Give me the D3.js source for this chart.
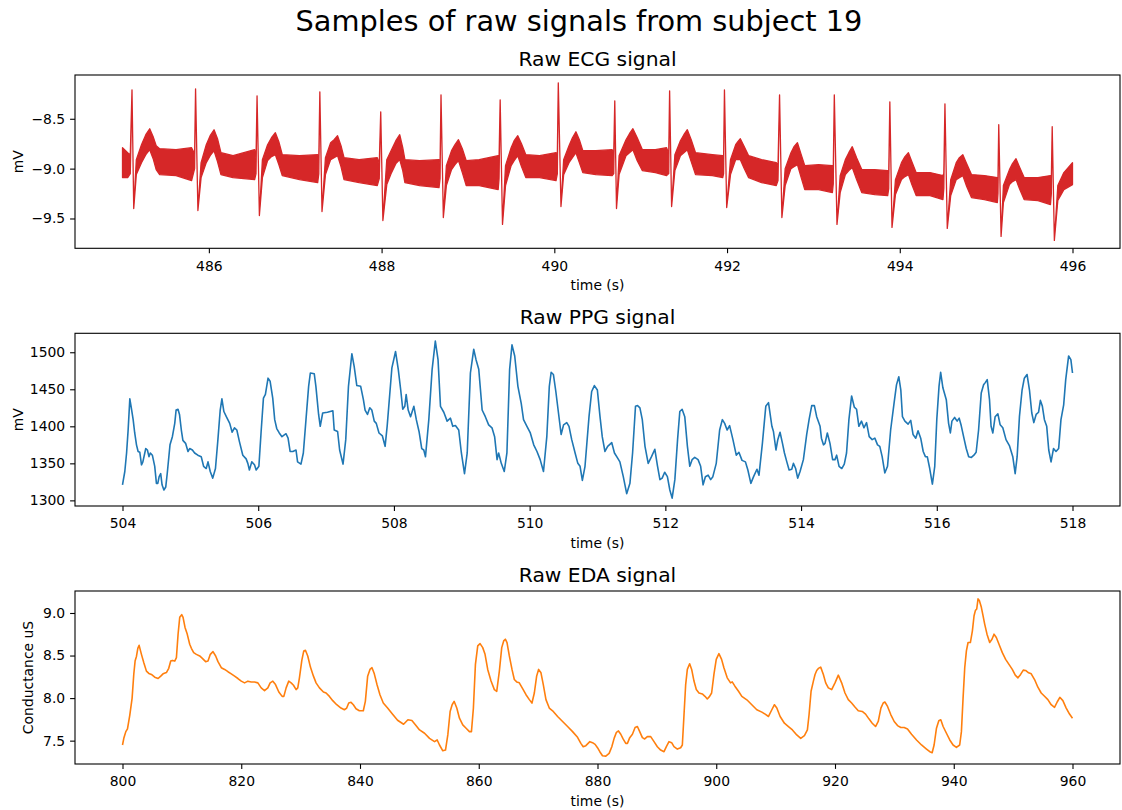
<!DOCTYPE html>
<html>
<head>
<meta charset="utf-8">
<script src="https://cdn.jsdelivr.net/npm/d3@7"></script>
<style>
  body { margin: 0; background: #fff; }
  svg { font-family: "DejaVu Sans", sans-serif; }
</style>
</head>
<body>
<script>
const width = 1122;
const height = 810;
const marginLeft = 75;
const marginRight = 2;

// ECG: the dense noisy trace read as a band (low / high edge), R and S spikes as single values.
// one line per heart beat
const ecgTime = [
  485.00, 485.06, 485.09, 485.11, 485.13, 485.16, 485.22, 485.27, 485.315, 485.355, 485.39, 485.43, 485.62, 485.80,
  485.835, 485.846, 485.873, 485.91, 485.97, 486.015, 486.06, 486.10, 486.14, 486.28, 486.53,
  486.546, 486.558, 486.585, 486.62, 486.68, 486.725, 486.77, 486.81, 486.85, 487.05, 487.26,
  487.273, 487.285, 487.31, 487.35, 487.41, 487.45, 487.49, 487.53, 487.565, 487.74, 487.95,
  487.973, 487.99, 488.015, 488.06, 488.115, 488.165, 488.21, 488.245, 488.27, 488.44, 488.665,
  488.677, 488.688, 488.715, 488.75, 488.81, 488.85, 488.89, 488.935, 488.98, 489.13, 489.35,
  489.36, 489.373, 489.40, 489.435, 489.50, 489.535, 489.577, 489.62, 489.67, 489.83, 490.02,
  490.035, 490.046, 490.077, 490.108, 490.17, 490.21, 490.25, 490.29, 490.33, 490.48, 490.67,
  490.688, 490.70, 490.72, 490.75, 490.83, 490.87, 490.91, 490.96, 491.02, 491.17, 491.30,
  491.325, 491.335, 491.358, 491.396, 491.46, 491.50, 491.54, 491.585, 491.635, 491.83, 491.95,
  491.96, 491.97, 491.996, 492.04, 492.10, 492.125, 492.154, 492.20, 492.25, 492.40, 492.57,
  492.59, 492.608, 492.635, 492.673, 492.74, 492.775, 492.815, 492.855, 492.90, 493.06, 493.22,
  493.23, 493.242, 493.273, 493.31, 493.37, 493.41, 493.45, 493.50, 493.56, 493.71, 493.86,
  493.872, 493.885, 493.91, 493.95, 494.02, 494.06, 494.10, 494.14, 494.19, 494.35, 494.50,
  494.51, 494.523, 494.55, 494.59, 494.654, 494.69, 494.73, 494.775, 494.83, 494.98, 495.13,
  495.137, 495.146, 495.173, 495.20, 495.27, 495.305, 495.346, 495.39, 495.44, 495.60, 495.745,
  495.755, 495.765, 495.79, 495.83, 495.90, 496.00];
const ecgLow = [
  -9.09, -9.09, -9.05, -8.21, -9.40, -9.06, -8.94, -8.86, -8.81, -8.90, -9.01, -9.06, -9.07, -9.12,
  -9.00, -8.20, -9.42, -9.09, -8.94, -8.87, -8.82, -8.93, -9.06, -9.09, -9.11,
  -9.05, -8.27, -9.47, -9.09, -8.92, -8.88, -8.86, -8.96, -9.07, -9.11, -9.14,
  -9.05, -8.23, -9.43, -9.06, -8.91, -8.89, -8.87, -8.98, -9.11, -9.14, -9.17,
  -9.10, -8.43, -9.52, -9.16, -9.04, -8.95, -8.91, -9.02, -9.14, -9.17, -9.19,
  -9.10, -8.26, -9.49, -9.17, -9.01, -8.96, -8.92, -9.04, -9.17, -9.17, -9.21,
  -9.10, -8.31, -9.56, -9.17, -8.97, -8.92, -8.87, -8.98, -9.09, -9.09, -9.12,
  -9.05, -8.14, -9.38, -9.06, -8.94, -8.89, -8.84, -8.94, -9.04, -9.06, -9.07,
  -9.05, -8.32, -9.40, -9.06, -8.87, -8.84, -8.81, -8.92, -9.02, -9.04, -9.07,
  -9.05, -8.22, -9.38, -9.02, -8.87, -8.84, -8.81, -8.93, -9.06, -9.07, -9.09,
  -9.05, -8.21, -9.39, -9.06, -8.91, -8.91, -8.91, -9.00, -9.09, -9.14, -9.17,
  -9.12, -8.26, -9.49, -9.17, -9.00, -8.98, -8.96, -9.08, -9.21, -9.21, -9.24,
  -9.15, -8.26, -9.56, -9.24, -9.06, -9.02, -8.99, -9.11, -9.24, -9.26, -9.27,
  -9.20, -8.33, -9.59, -9.26, -9.11, -9.08, -9.06, -9.16, -9.27, -9.27, -9.31,
  -9.20, -8.35, -9.60, -9.27, -9.11, -9.09, -9.07, -9.18, -9.29, -9.31, -9.34,
  -9.25, -8.56, -9.68, -9.34, -9.16, -9.13, -9.11, -9.21, -9.31, -9.32, -9.36,
  -9.25, -8.58, -9.72, -9.32, -9.21, -9.16];
const ecgHigh = [
  -8.79, -8.84, -8.86, -8.21, -9.40, -8.91, -8.76, -8.66, -8.60, -8.68, -8.77, -8.80, -8.81, -8.79,
  -8.85, -8.20, -9.42, -8.94, -8.76, -8.67, -8.61, -8.70, -8.84, -8.87, -8.81,
  -8.90, -8.27, -9.47, -8.91, -8.76, -8.69, -8.64, -8.73, -8.86, -8.87, -8.86,
  -8.90, -8.23, -9.43, -8.89, -8.74, -8.71, -8.67, -8.77, -8.89, -8.91, -8.89,
  -8.95, -8.43, -9.52, -8.91, -8.81, -8.72, -8.66, -8.79, -8.91, -8.92, -8.91,
  -8.95, -8.26, -9.49, -8.97, -8.82, -8.76, -8.71, -8.80, -8.92, -8.91, -8.87,
  -8.90, -8.31, -9.56, -8.97, -8.79, -8.72, -8.67, -8.75, -8.86, -8.87, -8.84,
  -8.85, -8.14, -9.38, -8.91, -8.77, -8.69, -8.63, -8.71, -8.82, -8.82, -8.81,
  -8.85, -8.32, -9.40, -8.87, -8.71, -8.65, -8.60, -8.69, -8.81, -8.81, -8.79,
  -8.85, -8.22, -9.38, -8.86, -8.72, -8.66, -8.61, -8.71, -8.84, -8.86, -8.87,
  -8.90, -8.21, -9.39, -8.91, -8.76, -8.73, -8.70, -8.78, -8.87, -8.91, -8.94,
  -8.97, -8.26, -9.49, -9.00, -8.84, -8.78, -8.74, -8.85, -8.97, -8.96, -8.97,
  -9.00, -8.26, -9.56, -9.07, -8.91, -8.84, -8.78, -8.89, -9.01, -9.01, -9.02,
  -9.05, -8.33, -9.59, -9.11, -8.94, -8.88, -8.84, -8.93, -9.04, -9.04, -9.07,
  -9.05, -8.35, -9.60, -9.11, -8.94, -8.89, -8.86, -8.95, -9.06, -9.07, -9.09,
  -9.10, -8.56, -9.68, -9.17, -9.01, -8.95, -8.90, -8.99, -9.09, -9.09, -9.07,
  -9.10, -8.58, -9.72, -9.17, -9.04, -8.94];

const ppgTime = [504.0, 504.034, 504.06, 504.083, 504.108, 504.13, 504.157, 504.18, 504.206, 504.23, 504.255, 504.28,
  504.30, 504.343, 504.367, 504.39, 504.41, 504.44, 504.475, 504.50, 504.52, 504.54, 504.563, 504.583, 504.61,
  504.637, 504.66, 504.70, 504.735, 504.77, 504.79, 504.818, 504.84, 504.867, 504.89, 504.93, 504.965, 504.99,
  505.03, 505.063, 505.11, 505.16, 505.195, 505.234, 505.26, 505.293, 505.33, 505.37, 505.406, 505.44, 505.465,
  505.494, 505.53, 505.58, 505.616, 505.65, 505.685, 505.724, 505.773, 505.822, 505.847, 505.87, 505.905, 505.945,
  505.97, 506.01, 506.043, 506.077, 506.106, 506.145, 506.175, 506.214, 506.243, 506.273, 506.31, 506.35, 506.41,
  506.44, 506.47, 506.51, 506.557, 506.58, 506.63, 506.665, 506.704, 506.743, 506.768, 506.826, 506.85, 506.89,
  506.914, 506.95, 507.02, 507.10, 507.12, 507.17, 507.20, 507.25, 507.29, 507.33, 507.38, 507.414, 507.453,
  507.51, 507.55, 507.575, 507.61, 507.644, 507.674, 507.71, 507.74, 507.78, 507.83, 507.87, 507.90, 507.97,
  508.024, 508.064, 508.10, 508.13, 508.16, 508.18, 508.21, 508.245, 508.294, 508.33, 508.37, 508.41, 508.44,
  508.465, 508.514, 508.563, 508.61, 508.65, 508.686, 508.735, 508.784, 508.833, 508.867, 508.906, 508.955, 508.994,
  509.04, 509.08, 509.127, 509.176, 509.21, 509.25, 509.30, 509.347, 509.396, 509.445, 509.484, 509.52, 509.543,
  509.582, 509.626, 509.665, 509.705, 509.74, 509.78, 509.827, 509.876, 509.91, 509.96, 510.01, 510.06, 510.108,
  510.155, 510.204, 510.253, 510.29, 510.317, 510.35, 510.386, 510.425, 510.464, 510.50, 510.547, 510.58, 510.62,
  510.67, 510.71, 510.743, 510.777, 510.816, 510.875, 510.914, 510.954, 510.998, 511.037, 511.07, 511.11, 511.15,
  511.21, 511.25, 511.297, 511.33, 511.38, 511.43, 511.478, 511.517, 511.56, 511.59, 511.625, 511.66, 511.70,
  511.747, 511.796, 511.845, 511.885, 511.92, 511.953, 511.99, 512.03, 512.066, 512.10, 512.14, 512.18, 512.213,
  512.247, 512.286, 512.325, 512.36, 512.394, 512.433, 512.482, 512.52, 512.556, 512.59, 512.63, 512.668, 512.70,
  512.75, 512.80, 512.84, 512.874, 512.91, 512.947, 512.996, 513.045, 513.084, 513.13, 513.18, 513.216, 513.26,
  513.30, 513.35, 513.38, 513.43, 513.48, 513.52, 513.57, 513.593, 513.63, 513.657, 513.69, 513.726, 513.755,
  513.79, 513.824, 513.863, 513.887, 513.92, 513.95, 513.985, 514.034, 514.083, 514.118, 514.157, 514.196, 514.23,
  514.28, 514.30, 514.33, 514.353, 514.387, 514.426, 514.465, 514.50, 514.524, 514.56, 514.60, 514.637, 514.67,
  514.705, 514.745, 514.784, 514.818, 514.852, 514.89, 514.926, 514.965, 515.004, 515.048, 515.087, 515.127, 515.16,
  515.195, 515.234, 515.274, 515.32, 515.37, 515.406, 515.44, 515.47, 515.494, 515.53, 515.577, 515.616, 515.65,
  515.69, 515.724, 515.763, 515.80, 515.832, 515.86, 515.896, 515.935, 515.97, 516.00, 516.033, 516.057, 516.09,
  516.14, 516.174, 516.20, 516.223, 516.263, 516.30, 516.33, 516.36, 516.40, 516.434, 516.47, 516.51, 516.547,
  516.58, 516.616, 516.655, 516.69, 516.714, 516.743, 516.777, 516.80, 516.826, 516.86, 516.90, 516.934, 516.973,
  517.02, 517.07, 517.12, 517.155, 517.184, 517.218, 517.257, 517.29, 517.33, 517.366, 517.40, 517.43, 517.464,
  517.50, 517.527, 517.556, 517.586, 517.62, 517.65, 517.684, 517.72, 517.757, 517.796, 517.83, 517.87, 517.90,
  517.943, 517.976, 518.00];
const ppgValue = [1321, 1339, 1364, 1395, 1437, 1425, 1409, 1391, 1375, 1366, 1365, 1348,
  1352, 1370, 1368, 1359, 1364, 1361, 1346, 1323, 1323, 1332, 1336, 1321, 1314,
  1318, 1337, 1375, 1386, 1404, 1422, 1423, 1416, 1395, 1381, 1377, 1366, 1370,
  1368, 1364, 1361, 1359, 1346, 1343, 1352, 1339, 1330, 1343, 1382, 1422, 1437,
  1420, 1413, 1404, 1392, 1398, 1395, 1379, 1361, 1356, 1350, 1341, 1352, 1348,
  1341, 1346, 1393, 1438, 1443, 1465, 1461, 1438, 1409, 1397, 1391, 1386, 1390,
  1384, 1366, 1366, 1368, 1352, 1349, 1364, 1409, 1454, 1472, 1471, 1454, 1416,
  1400, 1418, 1419, 1421, 1395, 1393, 1368, 1349, 1382, 1454, 1498, 1481, 1455,
  1454, 1436, 1422, 1416, 1425, 1422, 1407, 1404, 1391, 1387, 1373, 1400, 1479,
  1501, 1477, 1449, 1423, 1427, 1443, 1422, 1413, 1427, 1409, 1393, 1370, 1368,
  1359, 1409, 1477, 1515, 1490, 1427, 1419, 1407, 1411, 1400, 1401, 1395, 1364,
  1336, 1364, 1472, 1504, 1490, 1477, 1422, 1413, 1402, 1398, 1386, 1355, 1364,
  1350, 1339, 1364, 1477, 1510, 1495, 1454, 1431, 1409, 1400, 1391, 1375, 1366,
  1355, 1339, 1386, 1454, 1473, 1470, 1447, 1418, 1389, 1402, 1405, 1400, 1382,
  1364, 1350, 1346, 1327, 1346, 1413, 1447, 1455, 1449, 1413, 1386, 1366, 1373,
  1378, 1364, 1357, 1352, 1332, 1309, 1323, 1364, 1427, 1428, 1425, 1409, 1373,
  1350, 1359, 1369, 1346, 1328, 1330, 1338, 1332, 1314, 1303, 1328, 1382, 1420,
  1423, 1413, 1373, 1346, 1355, 1358, 1355, 1346, 1321, 1332, 1334, 1328, 1332,
  1350, 1395, 1409, 1404, 1395, 1401, 1382, 1361, 1365, 1354, 1352, 1341, 1323,
  1332, 1342, 1334, 1377, 1427, 1432, 1400, 1393, 1368, 1382, 1392, 1377, 1364,
  1352, 1341, 1342, 1350, 1343, 1330, 1339, 1355, 1389, 1409, 1428, 1428, 1413,
  1400, 1384, 1375, 1377, 1391, 1377, 1355, 1355, 1361, 1346, 1343, 1349, 1364,
  1409, 1441, 1426, 1423, 1400, 1407, 1398, 1405, 1386, 1382, 1384, 1375, 1373,
  1359, 1337, 1346, 1395, 1431, 1456, 1467, 1449, 1413, 1407, 1403, 1408, 1389,
  1384, 1394, 1384, 1366, 1359, 1359, 1343, 1322, 1346, 1409, 1454, 1473, 1452,
  1436, 1404, 1391, 1407, 1412, 1407, 1411, 1401, 1384, 1370, 1359, 1358, 1361,
  1365, 1395, 1445, 1456, 1459, 1463, 1436, 1400, 1391, 1413, 1417, 1402, 1398,
  1382, 1374, 1359, 1336, 1359, 1413, 1449, 1465, 1470, 1449, 1418, 1405, 1416,
  1419, 1435, 1427, 1409, 1400, 1368, 1352, 1370, 1366, 1370, 1409, 1429, 1463,
  1495, 1490, 1472];

const edaTime = [800.0, 800.22, 800.56, 800.84, 801.23, 801.62, 801.9, 802.13, 802.35, 802.58, 802.8, 803.19,
  803.59, 804.03, 804.43, 804.87, 805.43, 806.0, 806.44, 806.83, 807.39, 807.79, 808.12, 808.4, 808.8, 809.08,
  809.36, 809.64, 809.97, 810.2, 810.53, 810.87, 811.32, 811.6, 811.99, 812.44, 813.0, 813.45, 814.0, 814.4,
  814.79, 815.24, 815.69, 816.08, 816.64, 817.2, 817.76, 818.32, 818.88, 819.44, 820.0, 820.56, 821.12, 821.68,
  822.24, 822.8, 823.36, 823.92, 824.48, 824.87, 825.32, 825.77, 826.33, 826.89, 827.17, 827.56, 828.0, 828.4,
  828.8, 829.24, 829.52, 829.8, 830.2, 830.53, 830.81, 831.2, 831.65, 832.16, 832.6, 833.17, 833.84, 834.29,
  834.85, 835.41, 836.08, 836.8, 837.37, 837.76, 838.1, 838.49, 838.88, 839.33, 839.89, 840.56, 840.9, 841.29,
  841.68, 842.02, 842.41, 842.86, 843.36, 843.92, 844.65, 845.49, 846.33, 847.34, 848.07, 848.74, 849.36, 850.03,
  850.87, 851.71, 852.55, 853.0, 853.39, 853.95, 854.4, 854.79, 855.18, 855.52, 855.85, 856.3, 856.75, 857.31,
  857.87, 858.43, 858.77, 859.1, 859.44, 859.83, 860.22, 860.67, 861.06, 861.51, 862.07, 862.63, 863.03, 863.47,
  863.87, 864.2, 864.48, 864.76, 865.15, 865.6, 865.99, 866.39, 866.83, 867.39, 867.96, 868.52, 868.96, 869.36,
  869.75, 870.08, 870.48, 870.87, 871.32, 871.88, 872.44, 873.28, 874.12, 874.96, 875.8, 876.64, 877.2, 877.59,
  878.04, 878.71, 879.16, 879.6, 880.0, 880.39, 880.84, 881.4, 881.96, 882.41, 882.8, 883.19, 883.53, 883.92,
  884.31, 884.76, 885.04, 885.43, 885.88, 886.33, 886.72, 887.11, 887.56, 887.95, 888.4, 888.96, 889.52, 890.08,
  890.64, 891.2, 891.6, 892.04, 892.49, 892.88, 893.45, 894.0, 894.29, 894.57, 894.85, 895.13, 895.52, 895.86,
  896.25, 896.64, 897.09, 897.65, 898.1, 898.49, 898.88, 899.22, 899.61, 900.0, 900.45, 900.9, 901.29, 901.85,
  902.41, 902.69, 903.14, 903.75, 904.31, 905.15, 905.99, 906.83, 907.68, 908.24, 908.8, 909.36, 909.8, 910.2,
  910.76, 911.48, 912.16, 912.83, 913.56, 914.23, 914.85, 915.35, 915.63, 915.97, 916.36, 916.64, 916.92, 917.2,
  917.59, 918.04, 918.43, 918.88, 919.44, 920.0, 920.56, 921.12, 921.68, 922.24, 922.8, 923.36, 923.92, 924.59,
  925.15, 925.71, 926.27, 926.83, 927.28, 927.73, 928.12, 928.4, 928.85, 929.41, 929.97, 930.53, 931.09, 931.65,
  932.21, 932.89, 933.73, 934.57, 935.41, 935.97, 936.36, 936.69, 937.09, 937.48, 937.82, 938.21, 938.77, 939.33,
  939.89, 940.45, 941.0, 941.29, 941.57, 941.85, 942.13, 942.41, 942.8, 943.14, 943.42, 943.64, 943.87, 944.09,
  944.31, 944.65, 944.93, 945.21, 945.6, 946.05, 946.44, 946.78, 947.17, 947.62, 948.18, 948.74, 949.3, 949.86,
  950.36, 950.81, 951.26, 951.71, 952.1, 952.61, 953.05, 953.61, 954.17, 954.73, 955.29, 955.85, 956.41, 956.97,
  957.42, 957.87, 958.38, 958.94, 959.5, 960.0];
const edaValue = [7.449, 7.527, 7.606, 7.638, 7.80, 8.00, 8.28, 8.44, 8.49, 8.585, 8.62, 8.514,
  8.416, 8.317, 8.29, 8.278, 8.246, 8.23, 8.258, 8.285, 8.30, 8.35, 8.435, 8.443, 8.435, 8.475,
  8.75, 8.949, 8.98, 8.949, 8.83, 8.76, 8.633, 8.585, 8.534, 8.514, 8.495, 8.467, 8.428, 8.435,
  8.514, 8.546, 8.495, 8.428, 8.357, 8.337, 8.31, 8.285, 8.258, 8.23, 8.199, 8.179, 8.199, 8.19,
  8.19, 8.179, 8.12, 8.088, 8.12, 8.179, 8.199, 8.159, 8.072, 8.02, 8.02, 8.12, 8.199, 8.179,
  8.151, 8.1, 8.12, 8.238, 8.443, 8.554, 8.562, 8.495, 8.364, 8.258, 8.179, 8.12, 8.072, 8.06,
  8.02, 7.97, 7.922, 7.883, 7.863, 7.883, 7.942, 7.95, 7.922, 7.875, 7.851, 7.851, 7.962, 8.258,
  8.337, 8.357, 8.285, 8.159, 8.04, 7.942, 7.883, 7.81, 7.74, 7.693, 7.745, 7.737, 7.685, 7.626,
  7.587, 7.527, 7.488, 7.508, 7.449, 7.381, 7.389, 7.567, 7.843, 7.922, 7.962, 7.883, 7.764, 7.685,
  7.646, 7.606, 7.606, 7.883, 8.396, 8.613, 8.64, 8.593, 8.514, 8.337, 8.2, 8.1, 8.08, 8.317,
  8.593, 8.672, 8.692, 8.653, 8.495, 8.337, 8.218, 8.19, 8.179, 8.112, 8.04, 7.982, 7.942, 8.06,
  8.258, 8.337, 8.297, 8.159, 7.982, 7.883, 7.851, 7.784, 7.725, 7.666, 7.606, 7.539, 7.468, 7.429,
  7.441, 7.488, 7.476, 7.456, 7.417, 7.37, 7.322, 7.318, 7.35, 7.429, 7.527, 7.598, 7.614, 7.575,
  7.52, 7.468, 7.468, 7.535, 7.575, 7.654, 7.666, 7.606, 7.535, 7.52, 7.547, 7.547, 7.488, 7.429,
  7.389, 7.37, 7.429, 7.488, 7.476, 7.429, 7.401, 7.417, 7.449, 7.804, 8.159, 8.337, 8.404, 8.337,
  8.2, 8.1, 8.06, 8.049, 8.021, 7.99, 8.02, 8.06, 8.278, 8.455, 8.522, 8.455, 8.357, 8.238,
  8.179, 8.19, 8.14, 8.08, 8.02, 7.98, 7.922, 7.863, 7.835, 7.812, 7.784, 7.863, 7.922, 7.883,
  7.784, 7.705, 7.666, 7.626, 7.567, 7.527, 7.559, 7.626, 7.804, 8.08, 8.2, 8.278, 8.325, 8.349,
  8.364, 8.278, 8.179, 8.12, 8.1, 8.179, 8.27, 8.179, 8.06, 7.982, 7.942, 7.895, 7.851, 7.843,
  7.812, 7.756, 7.705, 7.666, 7.725, 7.883, 7.942, 7.954, 7.902, 7.804, 7.725, 7.677, 7.654, 7.654,
  7.638, 7.575, 7.508, 7.449, 7.401, 7.37, 7.358, 7.449, 7.646, 7.733, 7.745, 7.666, 7.587, 7.508,
  7.449, 7.421, 7.449, 7.606, 8.0, 8.357, 8.554, 8.653, 8.653, 8.79, 8.968, 9.028, 9.047, 9.166,
  9.146, 9.067, 8.968, 8.87, 8.751, 8.653, 8.692, 8.751, 8.712, 8.633, 8.534, 8.455, 8.396, 8.337,
  8.27, 8.238, 8.278, 8.329, 8.325, 8.297, 8.285, 8.218, 8.128, 8.06, 8.021, 7.982, 7.922, 7.891,
  7.954, 8.009, 7.97, 7.883, 7.812, 7.764];

const ecgTicksX = [486, 488, 490, 492, 494, 496];
const ecgTicksY = [-9.5, -9.0, -8.5];
const ppgTicksX = [504, 506, 508, 510, 512, 514, 516, 518];
const ppgTicksY = [1300, 1350, 1400, 1450, 1500];
const edaTicksX = [800, 820, 840, 860, 880, 900, 920, 940, 960];
const edaTicksY = [7.5, 8.0, 8.5, 9.0];

const svg = d3
  .select("body")
  .append("svg")
  .attr("width", width)
  .attr("height", height);

svg
  .append("text")
  .attr("x", 579)
  .attr("y", 31)
  .attr("text-anchor", "middle")
  .style("font-size", "28.8px")
  .text("Samples of raw signals from subject 19");

// matplotlib style autoscale: data extent plus 5% on each side
function padded(lo, hi) {
  const m = (hi - lo) * 0.05;
  return [lo - m, hi + m];
}

function makePanel(opts) {
  const x = d3
    .scaleLinear()
    .domain(padded(d3.min(opts.xs), d3.max(opts.xs)))
    .range([marginLeft, width - marginRight]);
  const y = d3
    .scaleLinear()
    .domain(padded(opts.ymin, opts.ymax))
    .range([opts.bottom, opts.top]);

  const xAxis = d3
    .axisBottom(x)
    .tickValues(opts.xticks)
    .tickFormat(d3.format("d"))
    .tickSize(4.9)
    .tickPadding(7.6);
  const gx = svg
    .append("g")
    .attr("transform", `translate(0, ${opts.bottom})`)
    .call(xAxis);

  const yAxis = d3
    .axisLeft(y)
    .tickValues(opts.yticks)
    .tickFormat(opts.yformat)
    .tickSize(4.9)
    .tickPadding(4.9);
  const gy = svg
    .append("g")
    .attr("transform", `translate(${marginLeft}, 0)`)
    .call(yAxis);

  [gx, gy].forEach(function(g) {
    g.select(".domain").remove();
    g.selectAll("line").attr("stroke", "#000").attr("stroke-width", 1.1);
    g.selectAll("text")
      .attr("fill", "#000")
      .style("font-size", "13.9px")
      .style("font-family", "DejaVu Sans, sans-serif");
  });

  svg
    .append("rect")
    .attr("x", marginLeft)
    .attr("y", opts.top)
    .attr("width", width - marginRight - marginLeft)
    .attr("height", opts.bottom - opts.top)
    .attr("fill", "none")
    .attr("stroke", "#000")
    .attr("stroke-width", 1.1);

  svg
    .append("text")
    .attr("x", (marginLeft + width - marginRight) / 2)
    .attr("y", opts.top - 9)
    .attr("text-anchor", "middle")
    .style("font-size", "20.3px")
    .text(opts.title);

  svg
    .append("text")
    .attr("x", (marginLeft + width - marginRight) / 2)
    .attr("y", opts.bottom + 42)
    .attr("text-anchor", "middle")
    .style("font-size", "13.9px")
    .text("time (s)");

  svg
    .append("text")
    .attr("transform", `translate(${opts.ylabelX}, ${(opts.top + opts.bottom) / 2}) rotate(-90)`)
    .attr("text-anchor", "middle")
    .style("font-size", "13.9px")
    .text(opts.ylabel);

  return { x: x, y: y };
}

// ECG panel
const ecgPanel = makePanel({
  xs: ecgTime, ymin: d3.min(ecgLow), ymax: d3.max(ecgHigh),
  top: 75, bottom: 248.3,
  xticks: ecgTicksX, yticks: ecgTicksY, yformat: d3.format(".1f"),
  title: "Raw ECG signal", ylabel: "mV", ylabelX: 22.5
});
const ecgArea = d3
  .area()
  .x(function(d, i) { return ecgPanel.x(ecgTime[i]); })
  .y0(function(d, i) { return ecgPanel.y(ecgLow[i]); })
  .y1(function(d, i) { return ecgPanel.y(ecgHigh[i]); });
svg
  .append("path")
  .datum(ecgTime)
  .attr("d", ecgArea)
  .attr("fill", "#d62728")
  .attr("stroke", "#d62728")
  .attr("stroke-width", 1.3)
  .attr("stroke-linejoin", "round");

// PPG panel
const ppgPanel = makePanel({
  xs: ppgTime, ymin: d3.min(ppgValue), ymax: d3.max(ppgValue),
  top: 333.3, bottom: 506,
  xticks: ppgTicksX, yticks: ppgTicksY, yformat: d3.format("d"),
  title: "Raw PPG signal", ylabel: "mV", ylabelX: 22.5
});
const ppgLine = d3
  .line()
  .x(function(d, i) { return ppgPanel.x(ppgTime[i]); })
  .y(function(d) { return ppgPanel.y(d); });
svg
  .append("path")
  .datum(ppgValue)
  .attr("d", ppgLine)
  .attr("fill", "none")
  .attr("stroke", "#1f77b4")
  .attr("stroke-width", 1.6)
  .attr("stroke-linejoin", "round");

// EDA panel
const edaPanel = makePanel({
  xs: edaTime, ymin: d3.min(edaValue), ymax: d3.max(edaValue),
  top: 591, bottom: 764,
  xticks: edaTicksX, yticks: edaTicksY, yformat: d3.format(".1f"),
  title: "Raw EDA signal", ylabel: "Conductance uS", ylabelX: 33
});
const edaLine = d3
  .line()
  .x(function(d, i) { return edaPanel.x(edaTime[i]); })
  .y(function(d) { return edaPanel.y(d); });
svg
  .append("path")
  .datum(edaValue)
  .attr("d", edaLine)
  .attr("fill", "none")
  .attr("stroke", "#ff7f0e")
  .attr("stroke-width", 1.6)
  .attr("stroke-linejoin", "round");
</script>
</body>
</html>
